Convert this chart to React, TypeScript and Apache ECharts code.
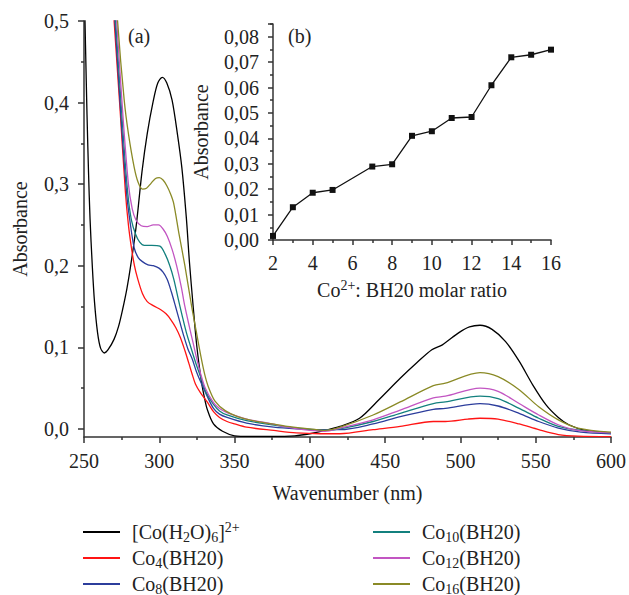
import React, { useEffect, useRef } from 'react';
import * as echarts from 'echarts';

const FONT = '"Liberation Serif", "DejaVu Serif", serif';
const TEXT = '#222222';
const AXIS = '#333333';

const seriesNames = ['[Co(H2O)6]2+', 'Co4(BH20)', 'Co8(BH20)', 'Co10(BH20)', 'Co12(BH20)', 'Co16(BH20)'];
const legendLabels = [
  '[Co(H{sub|2}O){sub|6}]{sup|2+}',
  'Co{sub|4}(BH20)',
  'Co{sub|8}(BH20)',
  'Co{sub|10}(BH20)',
  'Co{sub|12}(BH20)',
  'Co{sub|16}(BH20)',
];
const seriesColors = ['#000000', '#ff1414', '#2c3d9c', '#13807e', '#c255c2', '#8a8a26'];

// [wavelength nm, absorbance]
const coAqua: [number, number][] = [
  [250, 0.56], [251, 0.47], [252, 0.385], [253, 0.315], [254, 0.258], [255.5, 0.2], [257, 0.155],
  [259, 0.118], [261, 0.099], [263.5, 0.093], [266, 0.097], [270, 0.11], [273, 0.126], [275.6, 0.146],
  [278.5, 0.172], [281, 0.2], [284.5, 0.246], [288.5, 0.315], [292, 0.362], [296, 0.402], [299, 0.424],
  [302, 0.431], [305, 0.424], [308.5, 0.403], [312, 0.362], [315, 0.32], [318, 0.258], [320, 0.205],
  [322.5, 0.15], [325, 0.1], [328, 0.058], [330, 0.038], [332, 0.023], [336, 0.006], [342, -0.003],
  [350, -0.0085], [360, -0.0093], [375, -0.0093], [390, -0.0085], [400, -0.006], [410, -0.002], [420, 0.003],
  [433, 0.013], [446, 0.036], [460, 0.062], [471, 0.081], [481, 0.097], [488, 0.103], [499, 0.118],
  [506, 0.125], [513, 0.127], [521, 0.122], [530, 0.107], [539, 0.083], [548, 0.054], [557, 0.029],
  [565, 0.014], [572, 0.005], [583, -0.002], [600, -0.005],
];
const co4: [number, number][] = [
  [255, 1.0], [262, 0.74], [266, 0.615], [270, 0.5], [274, 0.39], [277.5, 0.29], [279.5, 0.25],
  [281.5, 0.222], [283.5, 0.2], [285.5, 0.185], [288.8, 0.166], [292, 0.156], [296, 0.151], [301, 0.146],
  [304.5, 0.141], [307.6, 0.134], [311, 0.124], [314, 0.112], [317, 0.096], [319.7, 0.08], [322, 0.066],
  [324, 0.055], [327.4, 0.044], [331.8, 0.033], [336, 0.021], [340, 0.014], [345, 0.009], [350, 0.006],
  [358, 0.002], [376, -0.002], [391, -0.005], [407, -0.006], [420, -0.006], [442, -0.001], [460, 0.003],
  [482, 0.009], [490, 0.009], [505, 0.012], [513, 0.013], [525, 0.012], [539, 0.006], [552, -0.001],
  [565, -0.007], [578, -0.009], [600, -0.0095],
];
const co8: [number, number][] = [
  [255, 1.0], [262, 0.75], [266, 0.625], [270.5, 0.5], [275, 0.37], [278.5, 0.285], [280.5, 0.255],
  [283.3, 0.222], [286, 0.21], [288.8, 0.205], [292.5, 0.201], [296, 0.2], [299.8, 0.197], [302.5, 0.192],
  [305.3, 0.183], [308, 0.168], [310.8, 0.15], [313.5, 0.132], [316.4, 0.113], [319, 0.098], [322, 0.085],
  [324.5, 0.071], [327.4, 0.058], [331.8, 0.04], [336, 0.025], [340, 0.018], [345, 0.014], [358, 0.007],
  [376, 0.002], [391, 0.0], [407, -0.001], [420, -0.001], [442, 0.006], [460, 0.015], [482, 0.024],
  [490, 0.025], [513, 0.031], [525, 0.028], [539, 0.019], [552, 0.009], [565, 0.001], [580, -0.004],
  [600, -0.006],
];
const co10: [number, number][] = [
  [255, 1.0], [262, 0.76], [266, 0.635], [271, 0.5], [275.5, 0.375], [279, 0.29], [281.5, 0.256],
  [284.4, 0.238], [287, 0.229], [290, 0.225], [295, 0.225], [300.4, 0.224], [304.2, 0.213], [307, 0.2],
  [309.7, 0.183], [312.5, 0.16], [315.3, 0.138], [318, 0.118], [320.8, 0.101], [324, 0.082], [327.4, 0.064],
  [331, 0.045], [336, 0.03], [340, 0.022], [345, 0.017], [358, 0.01], [375, 0.005], [385, 0.002],
  [400, -0.001], [410, -0.002], [420, 0.0], [442, 0.009], [460, 0.019], [482, 0.031], [490, 0.033],
  [513, 0.04], [525, 0.037], [539, 0.025], [552, 0.013], [565, 0.003], [580, -0.002], [600, -0.005],
];
const co12: [number, number][] = [
  [255, 1.0], [262, 0.78], [266, 0.66], [271.7, 0.5], [276, 0.38], [279.5, 0.3], [282, 0.27], [284.5, 0.256],
  [288, 0.249], [292, 0.248], [296, 0.25], [299.5, 0.25], [302.5, 0.245], [305.3, 0.236], [308.5, 0.22],
  [311.5, 0.2], [314.5, 0.175], [317, 0.15], [320, 0.125], [322.5, 0.105], [325, 0.085], [327.4, 0.068],
  [330.5, 0.05], [336, 0.032], [340, 0.025], [345, 0.02], [358, 0.012], [375, 0.006], [385, 0.002],
  [400, -0.002], [410, -0.003], [420, 0.001], [442, 0.011], [460, 0.023], [482, 0.038], [490, 0.04],
  [513, 0.05], [525, 0.046], [539, 0.031], [552, 0.017], [565, 0.005], [578, -0.002], [600, -0.005],
];
const co16: [number, number][] = [
  [255, 1.0], [262, 0.8], [266, 0.68], [272.3, 0.5], [276.7, 0.403], [279.5, 0.362], [283.3, 0.321],
  [286, 0.302], [288.8, 0.294], [291.5, 0.295], [294.5, 0.301], [297.5, 0.307], [300, 0.308], [302.5, 0.305],
  [305, 0.298], [307.5, 0.288], [309.5, 0.277], [313, 0.24], [317, 0.2], [321.5, 0.15], [324.5, 0.12],
  [327.5, 0.09], [330, 0.068], [332.5, 0.052], [337, 0.034], [344, 0.022], [352, 0.015], [362, 0.01],
  [375, 0.006], [385, 0.003], [400, 0.0], [410, -0.002], [420, 0.002], [442, 0.017], [460, 0.033],
  [482, 0.053], [490, 0.056], [513, 0.069], [525, 0.064], [539, 0.048], [552, 0.027], [565, 0.011],
  [578, 0.001], [600, -0.004],
];
const mainData = [coAqua, co4, co8, co10, co12, co16];

// inset (b)
const molarRatio = [2, 3, 4, 5, 7, 8, 9, 10, 11, 12, 13, 14, 15, 16];
const ratioAbsorbance = [0.0016, 0.0129, 0.0186, 0.0197, 0.0289, 0.0298, 0.041, 0.0428, 0.048, 0.0484, 0.0609, 0.0719, 0.0729, 0.0749];

const mainYTicks = [0, 0.1, 0.2, 0.3, 0.4, 0.5];
const mainYMinorTicks = [0.05, 0.15, 0.25, 0.35, 0.45];

const comma = (v: number, d: number) => v.toFixed(d).replace('.', ',');

const richText = {
  sub: { fontSize: 14, lineHeight: 12, verticalAlign: 'bottom', fontFamily: FONT, color: TEXT },
  sup: { fontSize: 14, lineHeight: 12, verticalAlign: 'top', fontFamily: FONT, color: TEXT },
};

export default function App() {
  const ref = useRef<HTMLDivElement>(null);
  useEffect(() => {
    if (!ref.current) return;
    const chart = echarts.init(ref.current, undefined, { renderer: 'svg' });
    const lineStyle = { color: AXIS, width: 1.5 };
    const labelStyle = { fontSize: 20, fontFamily: FONT, color: TEXT };
    const legendBase = {
      orient: 'vertical',
      top: 520,
      height: 100,
      icon: 'rect',
      itemWidth: 37,
      itemHeight: 2,
      itemGap: 2,
      padding: 0,
      formatter: (name: string) => legendLabels[seriesNames.indexOf(name)],
      textStyle: { fontSize: 20, fontFamily: FONT, color: TEXT, lineHeight: 24, padding: [0, 0, 0, 7], rich: richText },
    };
    const option: any = {
      animation: false,
      backgroundColor: '#ffffff',
      grid: [
        { left: 84, right: 15, top: 21, bottom: 158 },
        { left: 273, right: 78, top: 24, bottom: 355 },
      ],
      xAxis: [
        {
          gridIndex: 0, type: 'value', min: 250, max: 600, interval: 50,
          axisLine: { show: true, onZero: false, lineStyle },
          axisTick: { show: true, length: 6, lineStyle },
          minorTick: { show: true, splitNumber: 2, length: 3, lineStyle },
          splitLine: { show: false }, minorSplitLine: { show: false },
          axisLabel: { ...labelStyle, margin: 14 },
          name: 'Wavenumber (nm)', nameLocation: 'middle', nameGap: 46,
          nameTextStyle: labelStyle,
        },
        {
          gridIndex: 1, type: 'value', min: 2, max: 16, interval: 2,
          axisLine: { show: true, onZero: false, lineStyle },
          axisTick: { show: true, length: 5, lineStyle },
          minorTick: { show: true, splitNumber: 2, length: 3, lineStyle },
          splitLine: { show: false }, minorSplitLine: { show: false },
          axisLabel: { ...labelStyle, margin: 13 },
          name: 'Co{sup|2+}: BH20 molar ratio', nameLocation: 'middle', nameGap: 38,
          nameTextStyle: { ...labelStyle, lineHeight: 24, rich: richText },
        },
      ],
      yAxis: [
        {
          gridIndex: 0, type: 'value', min: -0.01, max: 0.5, position: 'left',
          axisLine: { show: true, onZero: false, lineStyle },
          axisTick: { show: true, length: 6, lineStyle, customValues: mainYTicks },
          splitLine: { show: false },
          axisLabel: { ...labelStyle, margin: 15, customValues: mainYTicks, formatter: (v: number) => comma(v, 1) },
          name: 'Absorbance', nameLocation: 'middle', nameGap: 54, nameRotate: 90,
          nameTextStyle: labelStyle,
        },
        {
          gridIndex: 1, type: 'value', min: 0, max: 0.085, interval: 0.01, position: 'left',
          axisLine: { show: true, onZero: false, lineStyle },
          axisTick: { show: true, length: 5, lineStyle },
          minorTick: { show: true, splitNumber: 2, length: 3, lineStyle },
          splitLine: { show: false }, minorSplitLine: { show: false },
          axisLabel: { ...labelStyle, margin: 14, showMaxLabel: false, formatter: (v: number) => comma(v, 2) },
          name: 'Absorbance', nameLocation: 'middle', nameGap: 62, nameRotate: 90,
          nameTextStyle: labelStyle,
        },
        {
          gridIndex: 0, type: 'value', min: -0.01, max: 0.5, position: 'left', offset: 0,
          axisLine: { show: false, onZero: false },
          axisTick: { show: true, length: 3, lineStyle, customValues: mainYMinorTicks },
          axisLabel: { show: false },
          splitLine: { show: false },
        },
      ],
      legend: [
        { ...legendBase, left: 83, data: seriesNames.slice(0, 3) },
        { ...legendBase, left: 373, data: seriesNames.slice(3, 6) },
      ],
      series: [
        ...mainData.map((d, i) => ({
          name: seriesNames[i],
          type: 'line',
          xAxisIndex: 0,
          yAxisIndex: 0,
          data: d,
          showSymbol: false,
          smooth: 0.3,
          clip: true,
          color: seriesColors[i],
          lineStyle: { width: 1.3, color: seriesColors[i] },
        })),
        {
          name: 'ratio',
          type: 'line',
          xAxisIndex: 1,
          yAxisIndex: 1,
          data: molarRatio.map((r, i) => [r, ratioAbsorbance[i]]),
          symbol: 'rect',
          symbolSize: 6,
          color: '#111111',
          itemStyle: { color: '#111111' },
          lineStyle: { width: 1.3, color: '#111111' },
        },
      ],
      graphic: [
        { type: 'text', left: 128, top: 26, style: { text: '(a)', fontSize: 20, fontFamily: FONT, fill: TEXT } },
        { type: 'text', left: 288, top: 26, style: { text: '(b)', fontSize: 20, fontFamily: FONT, fill: TEXT } },
      ],
    };
    chart.setOption(option);
    return () => chart.dispose();
  }, []);
  return <div ref={ref} style={{ position: 'fixed', left: 0, top: 0, width: 629, height: 595, background: '#fff' }} />;
}
